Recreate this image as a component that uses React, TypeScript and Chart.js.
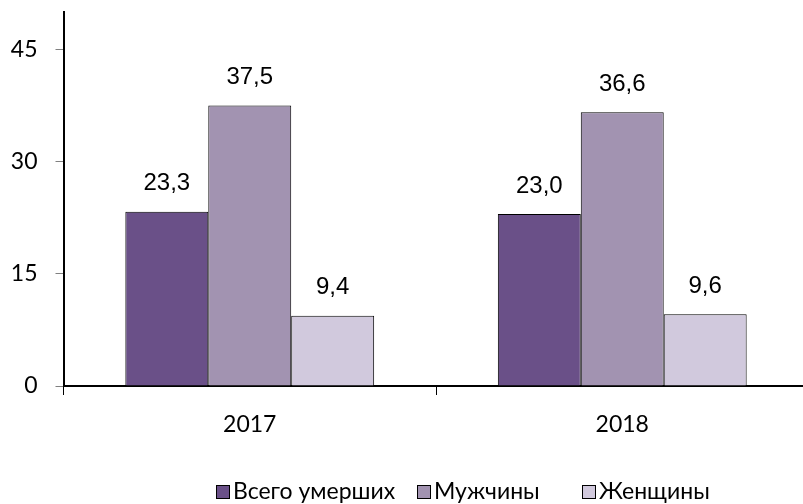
import React, { useEffect, useRef } from 'react';
import { Chart, registerables } from 'chart.js';

Chart.register(...registerables);

const categories = ['2017', '2018'];
const seriesNames = ['Всего умерших', 'Мужчины', 'Женщины'];
const totalValues = [23.3, 23.0];
const menValues = [37.5, 36.6];
const womenValues = [9.4, 9.6];
const yTicks = [0, 15, 30, 45];
const seriesColors = ['#6a5088', '#a293b1', '#d1c9dd'];

const fmt = (v: number) => v.toFixed(1).replace('.', ',');

const dataLabelPlugin = {
  id: 'dataLabels',
  afterDatasetsDraw(chart: any) {
    const ctx = chart.ctx;
    ctx.save();
    ctx.font = '24px "Liberation Sans", Arial, sans-serif';
    ctx.fillStyle = '#000';
    ctx.textAlign = 'center';
    ctx.textBaseline = 'middle';
    chart.data.datasets.forEach((ds: any, i: number) => {
      const meta = chart.getDatasetMeta(i);
      meta.data.forEach((el: any, j: number) => {
        ctx.fillText(fmt(ds.data[j]), el.x, el.y - 28);
      });
    });
    ctx.restore();
  },
};

const legendSlots = [216, 417, 582];

const legendPlugin = {
  id: 'customLegend',
  afterDraw(chart: any) {
    const ctx = chart.ctx;
    ctx.save();
    ctx.font = '23px Lato, "Open Sans", sans-serif';
    ctx.textBaseline = 'middle';
    ctx.textAlign = 'left';
    const cy = 492;
    chart.data.datasets.forEach((ds: any, i: number) => {
      const x = legendSlots[i];
      ctx.fillStyle = ds.backgroundColor;
      ctx.fillRect(x, cy - 7, 14, 14);
      ctx.strokeStyle = '#000';
      ctx.lineWidth = 1;
      ctx.strokeRect(x + 0.5, cy - 6.5, 13, 13);
      ctx.fillStyle = '#000';
      ctx.fillText(ds.label, x + 17, cy);
    });
    ctx.restore();
  },
};

export default function App() {
  const ref = useRef<HTMLCanvasElement | null>(null);
  useEffect(() => {
    if (!ref.current) return;
    const seriesValues = [totalValues, menValues, womenValues];
    const chart = new Chart(ref.current, {
      type: 'bar',
      data: {
        labels: categories,
        datasets: seriesNames.map((name, i) => ({
          label: name,
          data: seriesValues[i],
          backgroundColor: seriesColors[i],
          borderColor: '#000',
          borderWidth: 1,
          categoryPercentage: 0.668,
          barPercentage: 1,
        })),
      },
      options: {
        animation: false,
        responsive: false,
        layout: { padding: { top: 12, right: 3.5, left: 0, bottom: 0 } },
        plugins: { legend: { display: false }, tooltip: { enabled: false } },
        scales: {
          x: {
            offset: true,
            grid: { drawOnChartArea: false, drawTicks: true, tickLength: 9, color: '#000', offset: true },
            border: { display: true, color: '#000', width: 2 },
            ticks: { color: '#000', font: { family: 'Lato, "Open Sans", sans-serif', size: 23 }, padding: 16 },
            afterFit: (scale: any) => { scale.height = 118; scale.paddingLeft = 0; scale.paddingRight = 0; },
          },
          y: {
            min: 0,
            max: 50,
            grid: { drawOnChartArea: false, drawTicks: true, tickLength: 8, color: '#808080' },
            border: { display: true, color: '#000', width: 2 },
            ticks: { color: '#000', font: { family: 'Lato, "Open Sans", sans-serif', size: 23 }, padding: 18 },
            afterBuildTicks: (scale: any) => { scale.ticks = yTicks.map((v) => ({ value: v })); },
            afterFit: (scale: any) => { scale.width = 63.5; scale.paddingTop = 0; scale.paddingBottom = 0; },
          },
        },
      },
      plugins: [dataLabelPlugin, legendPlugin],
    });
    return () => chart.destroy();
  }, []);
  return (
    <div style={{ position: 'fixed', left: 0, top: 0, width: 803, height: 504, overflow: 'hidden', background: '#fff' }}>
      <canvas ref={ref} width={812} height={504} style={{ display: 'block' }} />
    </div>
  );
}
